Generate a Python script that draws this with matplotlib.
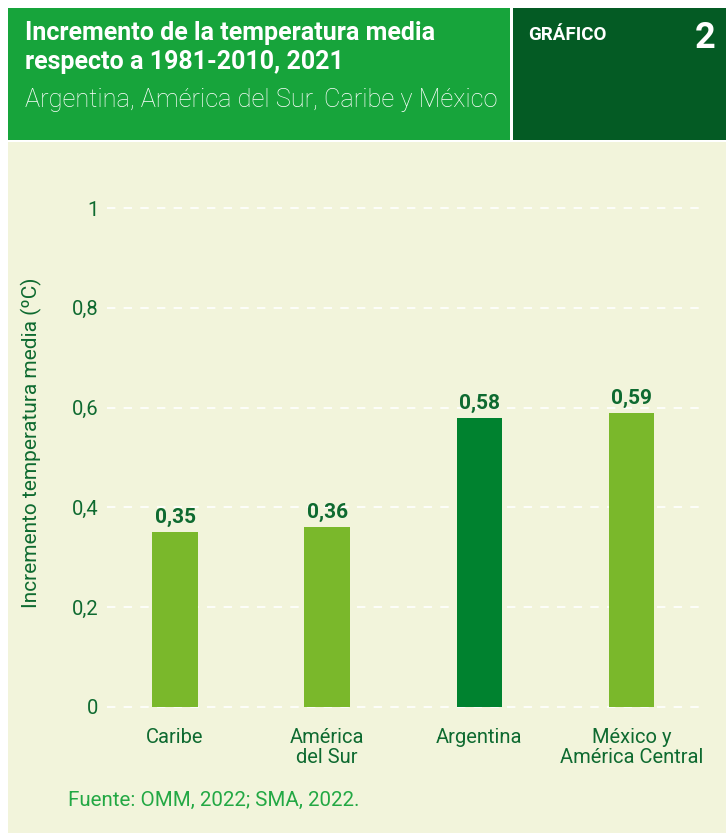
import matplotlib.pyplot as plt
from matplotlib.patches import Rectangle

plt.rcParams['font.family'] = ['Roboto', 'DejaVu Sans']

# Datos
regiones = ['Caribe', 'América\ndel Sur', 'Argentina', 'México y\nAmérica Central']
incremento = [0.35, 0.36, 0.58, 0.59]
etiquetas = ['0,35', '0,36', '0,58', '0,59']
ticks_y = [0, 0.2, 0.4, 0.6, 0.8, 1]
ticks_y_txt = ['0', '0,2', '0,4', '0,6', '0,8', '1']

verde_claro = '#7AB82B'
verde_osc = '#00822F'
texto_verde = '#0E6A30'
crema = '#F2F4DB'

W, H = 726, 833
fig = plt.figure(figsize=(W / 100, H / 100), dpi=100)
fig.patch.set_facecolor('white')

def px(x, y):
    return x / W, 1 - y / H

# Fondo y cabecera
fig.patches.append(Rectangle((8 / W, 0), 1 - 8 / W, 1 - 142 / H, transform=fig.transFigure,
                             facecolor=crema, edgecolor='none', zorder=-5))
fig.patches.append(Rectangle((8 / W, 1 - 140 / H), (510 - 8) / W, 132 / H, transform=fig.transFigure,
                             facecolor='#17A43B', edgecolor='none', zorder=-5))
fig.patches.append(Rectangle((513 / W, 1 - 140 / H), (W - 513) / W, 132 / H, transform=fig.transFigure,
                             facecolor='#045B24', edgecolor='none', zorder=-5))

fig.text(*px(25, 33), 'Incremento de la temperatura media', color='white', fontsize=18,
         fontweight='bold', va='center', ha='left')
fig.text(*px(25, 62), 'respecto a 1981-2010, 2021', color='white', fontsize=18,
         fontweight='bold', va='center', ha='left')
fig.text(*px(25, 100), 'Argentina, América del Sur, Caribe y México', color='white', fontsize=18.3,
         fontweight='light', va='center', ha='left')
fig.text(*px(528, 35), 'GRÁFICO', color='white', fontsize=13.5, fontweight='bold', va='center', ha='left')
fig.text(*px(716, 38), '2', color='white', fontsize=26, fontweight='bold', va='center', ha='right')

# Gráfico de barras
ax = fig.add_axes([106.6 / W, 1 - 707 / H, (700 - 106.6) / W, (707 - 208) / H])
ax.set_facecolor('none')
x = range(len(regiones))
colores = [verde_claro, verde_claro, verde_osc, verde_claro]
ax.bar(x, incremento, width=0.3, color=colores, zorder=2)

for i, v in enumerate(incremento):
    ax.text(i, v + 0.01, etiquetas[i], ha='center', va='bottom', fontsize=15,
            fontweight='bold', color=texto_verde)

ax.set_xlim(-0.45, 3.45)
ax.set_ylim(0, 1)
ax.set_yticks(ticks_y)
ax.set_yticklabels(ticks_y_txt)
ax.set_xticks(list(x))
ax.set_xticklabels(regiones, linespacing=1.05)
ax.tick_params(axis='both', length=0, colors=texto_verde, labelsize=14.5)
ax.tick_params(axis='x', pad=15)
ax.tick_params(axis='y', pad=6)
ax.grid(axis='y', color='white', linestyle=(0, (5, 5)), linewidth=1.2, zorder=1)
ax.set_axisbelow(True)
for s in ax.spines.values():
    s.set_visible(False)
for gl in ax.get_ygridlines():
    gl.set_clip_on(False)

ax.set_ylabel('Incremento temperatura media (ºC)', color=texto_verde, fontsize=15)
ax.yaxis.set_label_coords(-65 / (700 - 106.6), 0.529)

fig.text(*px(68, 800), 'Fuente: OMM, 2022; SMA, 2022.', color='#23A844', fontsize=14.8,
         va='center', ha='left')

fig.savefig('out.png', dpi=100, facecolor=fig.get_facecolor())
